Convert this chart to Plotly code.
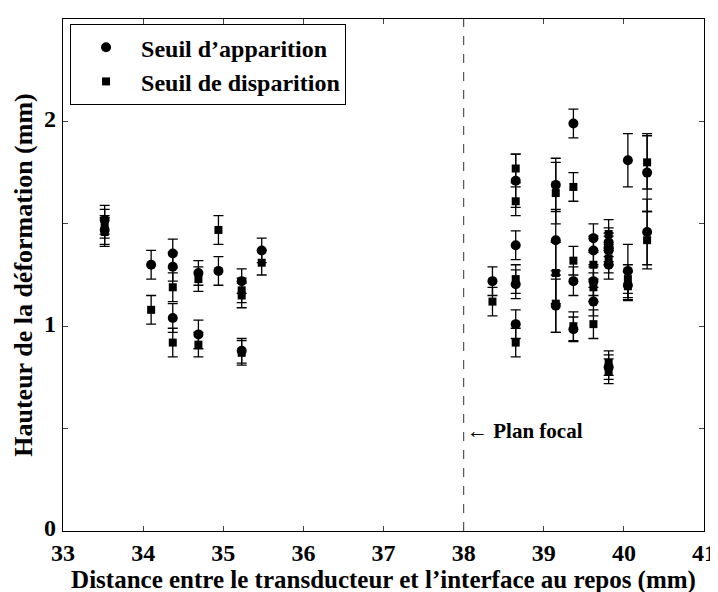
import plotly.graph_objects as go

# Seuil d'apparition (circles)
x_app = [33.52, 33.52, 34.10, 34.37, 34.37, 34.37, 34.69, 34.69, 34.94, 35.23, 35.23, 35.48,
         38.36, 38.65, 38.65, 38.65, 38.65, 39.15, 39.15, 39.15, 39.37, 39.37, 39.37,
         39.62, 39.62, 39.62, 39.62, 39.81, 39.81, 39.81, 39.81, 39.81,
         40.05, 40.05, 40.05, 40.29, 40.29]
y_app = [1.52, 1.47, 1.30, 1.355, 1.29, 1.04, 1.26, 0.96, 1.27, 1.22, 0.88, 1.37,
         1.22, 1.71, 1.395, 1.205, 1.01, 1.69, 1.42, 1.10, 1.99, 1.22, 0.985,
         1.43, 1.37, 1.22, 1.12, 1.41, 1.385, 1.37, 1.30, 0.80,
         1.81, 1.27, 1.20, 1.75, 1.46]
e_app = [0.07, 0.07, 0.07, 0.07, 0.07, 0.07, 0.06, 0.07, 0.07, 0.06, 0.06, 0.06,
         0.07, 0.13, 0.07, 0.07, 0.07, 0.13, 0.15, 0.13, 0.07, 0.07, 0.06,
         0.07, 0.07, 0.07, 0.07, 0.07, 0.07, 0.07, 0.07, 0.06,
         0.13, 0.13, 0.07, 0.19, 0.16]

# Seuil de disparition (squares)
x_dis = [33.52, 33.52, 34.10, 34.37, 34.37, 34.69, 34.69, 34.94, 35.23, 35.23, 35.23, 35.48,
         38.36, 38.65, 38.65, 38.65, 38.65, 39.15, 39.15, 39.15, 39.37, 39.37, 39.37,
         39.62, 39.62, 39.62, 39.81, 39.81, 39.81, 39.81, 40.05, 40.05, 40.29, 40.29]
y_dis = [1.50, 1.46, 1.08, 1.19, 0.92, 1.23, 0.91, 1.47, 1.175, 1.15, 0.87, 1.31,
         1.12, 1.77, 1.61, 1.23, 0.92, 1.65, 1.26, 1.11, 1.68, 1.32, 1.00,
         1.30, 1.19, 1.01, 1.45, 1.33, 0.82, 0.78, 1.23, 1.195, 1.80, 1.42]
e_dis = [0.07, 0.07, 0.07, 0.07, 0.07, 0.06, 0.06, 0.07, 0.06, 0.06, 0.06, 0.06,
         0.07, 0.07, 0.07, 0.07, 0.07, 0.15, 0.15, 0.14, 0.07, 0.07, 0.07,
         0.07, 0.07, 0.07, 0.07, 0.07, 0.06, 0.06, 0.07, 0.07, 0.13, 0.14]

x_ticks = [33, 34, 35, 36, 37, 38, 39, 40, 41]
y_ticks = [0, 0.5, 1, 1.5, 2, 2.5]
y_ticktext = ["0", "", "1", "", "2", ""]
focal_x = 38

FONT = "Liberation Serif"
bold = dict(family=FONT, color="black", weight="bold")

fig = go.Figure()
fig.add_trace(go.Scatter(
    x=x_app, y=y_app, mode="markers", name="Seuil d\u2019apparition",
    marker=dict(symbol="circle", size=10, color="black"),
    error_y=dict(type="data", array=e_app, color="black", thickness=1.3, width=5),
))
fig.add_trace(go.Scatter(
    x=x_dis, y=y_dis, mode="markers", name="Seuil de disparition",
    marker=dict(symbol="square", size=8, color="black"),
    error_y=dict(type="data", array=e_dis, color="black", thickness=1.3, width=5),
))

fig.add_shape(type="line", x0=focal_x, x1=focal_x, y0=0, y1=2.5, xref="x", yref="y",
              line=dict(color="#555", width=1.2, dash="dash"))
fig.add_annotation(x=focal_x, y=0.49, xref="x", yref="y", xanchor="left", yanchor="middle",
                   xshift=1, showarrow=False, text="\u2190 Plan focal",
                   font=dict(size=21, **bold))

fig.update_layout(
    width=718, height=592,
    margin=dict(l=55, r=12, t=10, b=69),
    paper_bgcolor="white", plot_bgcolor="white",
    showlegend=True,
    legend=dict(x=0.011, y=0.99, xanchor="left", yanchor="top",
                bordercolor="black", borderwidth=1, bgcolor="white",
                font=dict(size=24, **bold), itemsizing="trace", itemwidth=60,
                tracegroupgap=0),
    font=dict(family=FONT, color="black"),
)
fig.update_xaxes(range=[33, 41], tickvals=x_ticks, ticks="inside", ticklen=5,
                 showline=True, linecolor="black", linewidth=1.3, mirror="ticks",
                 showgrid=False, zeroline=False, ticklabelstandoff=0,
                 tickfont=dict(size=24, **bold),
                 title=dict(text="Distance entre le transducteur et l\u2019interface au repos (mm)",
                            font=dict(size=25, **bold), standoff=0))
fig.update_yaxes(range=[0, 2.5], tickvals=y_ticks, ticktext=y_ticktext, ticks="inside", ticklen=5,
                 showline=True, linecolor="black", linewidth=1.3, mirror="ticks",
                 showgrid=False, zeroline=False, ticklabelshift=-3, ticklabelstandoff=1,
                 tickfont=dict(size=24, **bold),
                 title=dict(text="Hauteur de la d\u00e9formation (mm)",
                            font=dict(size=26, **bold), standoff=3))

fig.write_html("out.html")
